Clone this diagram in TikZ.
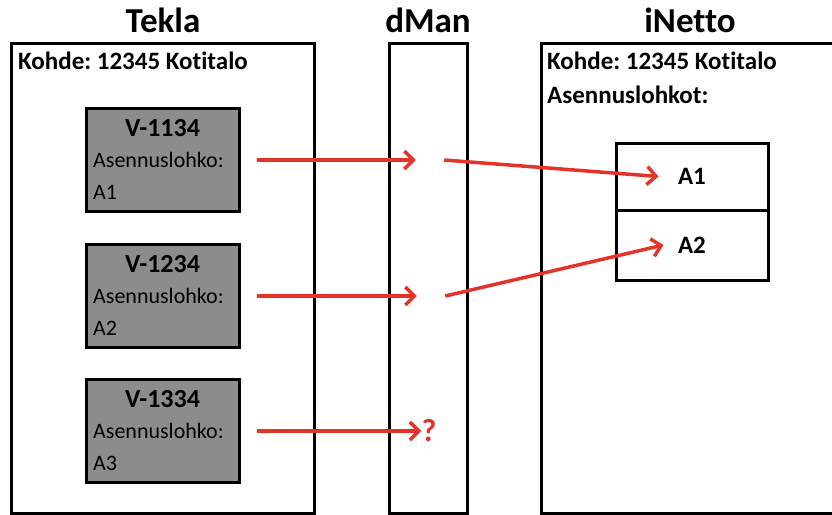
\documentclass[tikz,border=0pt]{standalone}
\usepackage{fontspec}
\setmainfont{Carlito}[Ligatures=NoCommon]
\frenchspacing
\usetikzlibrary{arrows.meta}
\definecolor{arrowred}{RGB}{228,52,42}
\definecolor{blockgrey}{RGB}{140,140,140}

\begin{document}
\begin{tikzpicture}[x=1pt, y=-1pt,
	title/.style={font=\fontsize{35}{40}\selectfont\bfseries},
	sysbox/.style={draw, line width=3pt, anchor=north west, inner sep=0pt},
	info/.style={font=\fontsize{25}{30}\selectfont\bfseries, anchor=west, inner sep=0pt},
	block/.style={draw, line width=3pt, fill=blockgrey, minimum width=153pt, minimum height=103pt, inner sep=0pt},
	blocktitle/.style={font=\fontsize{26}{30}\selectfont\bfseries, inner sep=0pt},
	blocktext/.style={font=\fontsize{22}{26}\selectfont, anchor=west, inner sep=0pt},
	slot/.style={draw, line width=3pt, minimum width=152pt, inner sep=0pt, font=\fontsize{25}{30}\selectfont\bfseries},
	flow/.style={draw=arrowred, line width=3.5pt, -{Straight Barb[length=9pt, width=18pt, line width=3.5pt]}}]
	\useasboundingbox (0,0) rectangle (832,514);
	% columns
	\node[title] (tekla) at (163,20) {Tekla};
	\node[title] (dman) at (428,20) {dMan};
	\node[title] (inetto) at (690,20) {iNetto};
	\node[sysbox, minimum width=303pt, minimum height=470pt] (teklabox) at (10,42) {};
	\node[sysbox, minimum width=78pt, minimum height=470pt] (dmanbox) at (388,42) {};
	\node[sysbox, minimum width=320pt, minimum height=470pt] (inettobox) at (540,42) {};
	\node[info] (kohde1) at (18,61) {Kohde: 12345 Kotitalo};
	\node[info] (kohde2) at (547,61) {Kohde: 12345 Kotitalo};
	\node[info] (lohkot) at (547,95) {Asennuslohkot:};
	% blocks in Tekla
	\foreach \name/\id/\lohko/\y in {v1/1134/A1/160, v2/1234/A2/296, v3/1334/A3/431}{
		\node[block] (\name) at (162.5,\y) {};
		\node[blocktitle] (\name t) at (162.5,\y-32) {V-\id};
		\node[blocktext] (\name a) at (93,\y) {Asennuslohko:};
		\node[blocktext] (\name b) at (93,\y+32) {\lohko};
	}
	% dMan
	\node[minimum width=28pt, inner sep=0pt] (d1) at (430,160) {};
	\node[minimum width=28pt, inner sep=0pt] (d2) at (431,296) {};
	\node[text=arrowred, font=\fontsize{32}{36}\selectfont\bfseries, inner sep=0pt] (q3) at (429,431) {?};
	% iNetto
	\node[slot, minimum height=67pt] (a1) at (692,176.5) {A1};
	\node[slot, minimum height=70pt] (a2) at (692,245) {A2};
	% arrows
	\draw[flow] ([xshift=16pt]v1.east) -- (d1.west);
	\draw[flow] ([xshift=16pt]v2.east) -- (d2.west);
	\draw[flow] ([xshift=16pt]v3.east) -- (q3.west);
	\draw[flow] (d1.east) -- ([xshift=44pt]a1.west);
	\draw[flow] (d2.east) -- ([xshift=49pt]a2.west);
\end{tikzpicture}
\end{document}
